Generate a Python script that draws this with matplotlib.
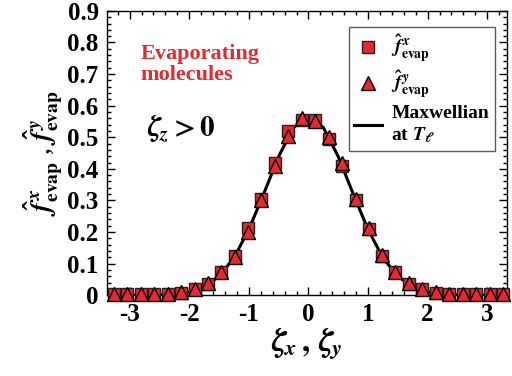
import numpy as np
import matplotlib
matplotlib.use('Agg')
import matplotlib.pyplot as plt
from matplotlib.ticker import MultipleLocator, FormatStrFormatter

plt.rcParams['font.family'] = 'Liberation Serif'
plt.rcParams['font.weight'] = 'bold'
plt.rcParams['mathtext.fontset'] = 'stix'

# ---------------- data ----------------
zeta = [-3.26, -3.04, -2.81, -2.59, -2.36, -2.14, -1.91, -1.69, -1.46, -1.24,
        -1.01, -0.79, -0.56, -0.34, -0.11, 0.11, 0.34, 0.56, 0.79, 1.01,
        1.24, 1.46, 1.69, 1.91, 2.14, 2.36, 2.59, 2.81, 3.04, 3.26]
f_x = [0.003, 0.003, 0.003, 0.003, 0.004, 0.008, 0.020, 0.036, 0.072, 0.124,
       0.213, 0.305, 0.420, 0.520, 0.555, 0.555, 0.495, 0.410, 0.300, 0.210,
       0.123, 0.072, 0.036, 0.018, 0.008, 0.004, 0.003, 0.003, 0.003, 0.003]
f_y = [0.003, 0.003, 0.003, 0.003, 0.004, 0.009, 0.020, 0.038, 0.073, 0.122,
       0.200, 0.302, 0.410, 0.505, 0.560, 0.553, 0.500, 0.420, 0.303, 0.212,
       0.126, 0.072, 0.038, 0.020, 0.009, 0.004, 0.003, 0.003, 0.003, 0.003]

zeta_line = [-3.3, -3.0, -2.75, -2.5, -2.25, -2.0, -1.75, -1.5, -1.25, -1.0,
             -0.75, -0.5, -0.25, 0.0, 0.25, 0.5, 0.75, 1.0, 1.25, 1.5,
             1.75, 2.0, 2.25, 2.5, 2.75, 3.0, 3.3]
f_line = [0.0, 0.0001, 0.0003, 0.0011, 0.0036, 0.0103, 0.0263, 0.0595, 0.118, 0.208,
          0.321, 0.439, 0.531, 0.564, 0.531, 0.439, 0.321, 0.208, 0.118, 0.0595,
          0.0263, 0.0103, 0.0036, 0.0011, 0.0003, 0.0001, 0.0]

red = '#e8282e'

fig = plt.figure(figsize=(5.12, 3.76), dpi=100)
ax = fig.add_axes([0.209, 0.215, 0.781, 0.756])

ax.plot(zeta_line, f_line, color='k', lw=2.2, zorder=2, label='Maxwellian\nat $\\boldsymbol{T_\\ell}$')
ax.plot(zeta, f_x, 's', ms=9, mfc=red, mec='#222222', mew=1.0, clip_on=False, zorder=3,
        label='$\\widehat{f}^{\\,x}_{\\rm evap}$')
ax.plot(zeta, f_y, '^', ms=9.5, mfc=red, mec='k', mew=1.0, clip_on=False, zorder=4,
        label='$\\widehat{f}^{\\,y}_{\\rm evap}$')

ax.set_xlim(-3.38, 3.33)
ax.set_ylim(0, 0.9)
ax.xaxis.set_major_locator(MultipleLocator(1))
ax.xaxis.set_minor_locator(MultipleLocator(0.2))
ax.yaxis.set_major_locator(MultipleLocator(0.1))
ax.yaxis.set_minor_locator(MultipleLocator(0.02))
ax.xaxis.set_major_formatter(FormatStrFormatter('%g'))
ax.yaxis.set_major_formatter(FormatStrFormatter('%g'))
ax.tick_params(which='both', direction='in', top=True, right=True, labelsize=18, width=1.0)
ax.tick_params(which='major', length=6, pad=6)
ax.tick_params(which='minor', length=3)
for s in ax.spines.values():
    s.set_linewidth(1.0)

ax.set_xlabel('$\\zeta_{\\boldsymbol{x}}\\,,\\,\\zeta_{\\boldsymbol{y}}$', fontsize=23, labelpad=0)
ax.set_ylabel('$\\widehat{f}^{\\,x}_{\\rm evap}$ , $\\widehat{f}^{\\,y}_{\\rm evap}$', fontsize=20, labelpad=2)

ax.text(0.083, 0.885, 'Evaporating\nmolecules', transform=ax.transAxes, color=red,
        fontsize=16, fontweight='bold', va='top', ha='left', linespacing=1.1)
ax.text(0.1, 0.585, '$\\zeta_{z} > \\mathbf{0}$', transform=ax.transAxes, fontsize=21,
        va='center', ha='left')

handles, labels = ax.get_legend_handles_labels()
leg = ax.legend([handles[1], handles[2], handles[0]], [labels[1], labels[2], labels[0]],
                loc='upper right', bbox_to_anchor=(0.97, 0.945), frameon=True,
                fancybox=False, edgecolor='#333333', handlelength=1.4, borderpad=0.3,
                labelspacing=0.25, handletextpad=0.5, borderaxespad=0,
                prop={'family': 'Liberation Serif', 'weight': 'bold', 'size': 14})
leg.get_frame().set_linewidth(1.0)

fig.savefig('out.png', dpi=100)
